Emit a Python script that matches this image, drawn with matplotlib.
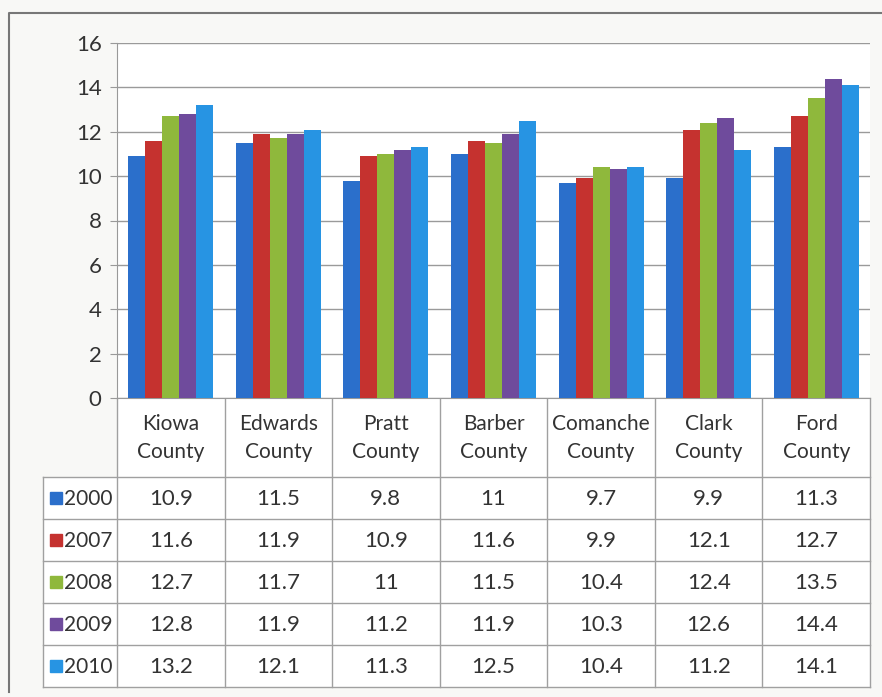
import matplotlib
matplotlib.use("Agg")
import matplotlib.pyplot as plt
import numpy as np

counties = ["Kiowa\nCounty", "Edwards\nCounty", "Pratt\nCounty", "Barber\nCounty",
            "Comanche\nCounty", "Clark\nCounty", "Ford\nCounty"]
years = ["2000", "2007", "2008", "2009", "2010"]
v2000 = [10.9, 11.5, 9.8, 11, 9.7, 9.9, 11.3]
v2007 = [11.6, 11.9, 10.9, 11.6, 9.9, 12.1, 12.7]
v2008 = [12.7, 11.7, 11, 11.5, 10.4, 12.4, 13.5]
v2009 = [12.8, 11.9, 11.2, 11.9, 10.3, 12.6, 14.4]
v2010 = [13.2, 12.1, 11.3, 12.5, 10.4, 11.2, 14.1]
series = [v2000, v2007, v2008, v2009, v2010]
colors = ["#2b6fcb", "#c5322f", "#8fb83c", "#6f4b9c", "#2794e3"]

plt.rcParams['font.family'] = ['Lato', 'DejaVu Sans']

W, H = 882, 697
fig = plt.figure(figsize=(W / 100, H / 100), dpi=100)
fig.patch.set_facecolor("#f8f8f6")

# outer frame
frame = fig.add_axes([0, 0, 1, 1])
frame.set_xlim(0, W)
frame.set_ylim(H, 0)
frame.axis("off")
frame.plot([9, 9, W + 5], [H - 5, 13, 13], color="#777777", lw=1.5)

x0, x1, ytop, ybot = 117, 870, 43, 398
ax = fig.add_axes([x0 / W, (H - ybot) / H, (x1 - x0) / W, (ybot - ytop) / H])
ax.set_facecolor("white")
n = len(counties)
x = np.arange(n)
bw = 0.158
for i, (vals, c) in enumerate(zip(series, colors)):
    ax.bar(x + (i - 2) * bw, vals, width=bw, color=c, zorder=3)
ax.set_xlim(-0.5, n - 0.5)
ax.set_ylim(0, 16)
ax.set_yticks(range(0, 17, 2))
ax.tick_params(axis="y", labelsize=16, length=5, color="#999999", pad=6,
               labelcolor="#333333")
ax.set_xticks([])
ax.grid(axis="y", color="#9a9a9a", lw=1, zorder=0)
for s in ["top", "right"]:
    ax.spines[s].set_visible(False)
ax.spines["left"].set_color("#999999")
ax.spines["bottom"].set_color("#999999")

# data table below the plot
tcol = "#a0a0a0"
colw = (x1 - x0) / n
hdr_bot = 477
rowh = 42
tleft = 43
tbot = hdr_bot + rowh * len(years)
frame.add_patch(plt.Rectangle((x0, ybot), x1 - x0, hdr_bot - ybot, color="white", zorder=0))
frame.add_patch(plt.Rectangle((tleft, hdr_bot), x1 - tleft, tbot - hdr_bot, color="white", zorder=0))
for k in range(n + 1):
    xx = x0 + k * colw
    frame.plot([xx, xx], [ybot, tbot], color=tcol, lw=1)
frame.plot([tleft, tleft], [hdr_bot, tbot], color=tcol, lw=1)
for r in range(len(years) + 1):
    yy = hdr_bot + r * rowh
    frame.plot([tleft, x1], [yy, yy], color=tcol, lw=1)

for k, name in enumerate(counties):
    frame.text(x0 + (k + 0.5) * colw, (ybot + hdr_bot) / 2, name, ha="center",
               va="center", fontsize=15, color="#333333", linespacing=1.5)

for r, (yr, vals, c) in enumerate(zip(years, series, colors)):
    yc = hdr_bot + (r + 0.5) * rowh
    frame.add_patch(plt.Rectangle((50, yc - 6), 12, 12, color=c))
    frame.text(64, yc + 1, yr, ha="left", va="center", fontsize=15, color="#333333")
    for k, v in enumerate(vals):
        frame.text(x0 + (k + 0.5) * colw, yc + 1, f"{v:g}", ha="center",
                   va="center", fontsize=16, color="#333333")

fig.savefig("out.png", dpi=100, facecolor=fig.get_facecolor())
